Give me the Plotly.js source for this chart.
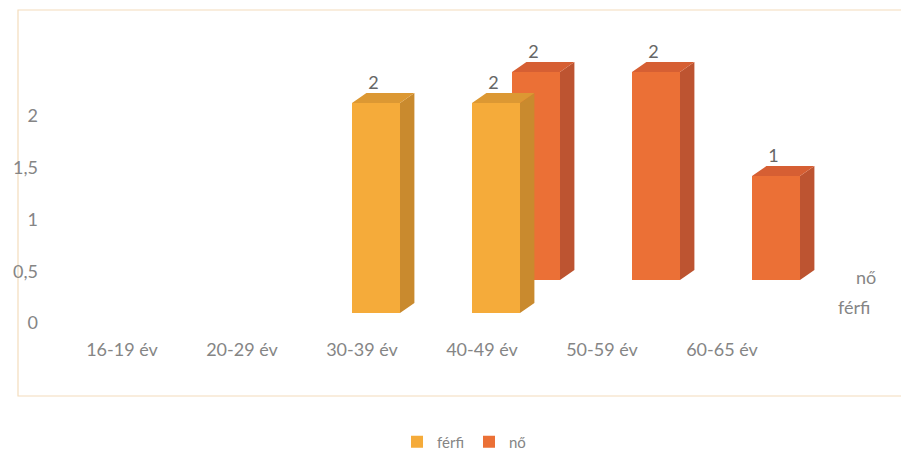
<!DOCTYPE html>
<html>
<head>
<meta charset="utf-8">
<script src="https://cdn.plot.ly/plotly-3.0.1.min.js"></script>
<style>html,body{margin:0;padding:0;background:#fff;}#chart{width:901px;height:460px;}</style>
</head>
<body>
<div id="chart"></div>
<script>
// ---- data ----
const categories = ["16-19 év", "20-29 év", "30-39 év", "40-49 év", "50-59 év", "60-65 év"];
const seriesNames = ["férfi", "nő"];
const ferfiValues = [0, 0, 2, 2, 0, 0];
const noValues = [0, 0, 0, 2, 2, 1];
const yTickValues = [0, 0.5, 1, 1.5, 2];
const yTickLabels = ["0", "0,5", "1", "1,5", "2"];

// ---- styling ----
const W = 901, H = 460;
const FONT = "Lato, 'Open Sans', sans-serif";
const GREY = "#858585";
const ferfiColors = {front: "#f5ab3a", side: "#c98a2e", top: "#dc9833"};
const noColors = {front: "#eb7036", side: "#bd5431", top: "#d65f33"};
const halfW = 0.2;      // half bar width (category units)
const depthX = 0.12;    // 3D depth offset, category units
const depthY = 0.095;   // 3D depth offset, value units
const AX_SIZE = 18;

const px = (a, b) => [a / W, b / W];
const py = (top, bottom) => [1 - bottom / H, 1 - top / H];

function idx() { return categories.map((_, i) => i); }

function faces(values) {
  const sx = [], sy = [], tx = [], ty = [];
  values.forEach((v, i) => {
    if (!(v > 0)) return;
    sx.push(i + halfW, i + halfW + depthX, i + halfW + depthX, i + halfW, i + halfW, null);
    sy.push(0, depthY, v + depthY, v, 0, null);
    tx.push(i - halfW, i - halfW + depthX, i + halfW + depthX, i + halfW, i - halfW, null);
    ty.push(v, v + depthY, v + depthY, v, v, null);
  });
  return {sx, sy, tx, ty};
}

function seriesTraces(values, name, colors, xa, ya) {
  const f = faces(values);
  const shown = values.map(v => v > 0 ? v : null);
  return [
    {type: "bar", x: idx(), y: values, name: name, xaxis: xa, yaxis: ya,
     width: 2 * halfW, marker: {color: colors.front, line: {width: 0}}, hoverinfo: "skip"},
    {type: "scatter", mode: "lines", x: f.sx, y: f.sy, fill: "toself", fillcolor: colors.side,
     line: {width: 0, color: colors.side}, xaxis: xa, yaxis: ya, showlegend: false, hoverinfo: "skip"},
    {type: "scatter", mode: "lines", x: f.tx, y: f.ty, fill: "toself", fillcolor: colors.top,
     line: {width: 0, color: colors.top}, xaxis: xa, yaxis: ya, showlegend: false, hoverinfo: "skip"},
    {type: "scatter", mode: "text", x: idx().map(i => i - 0.02), y: shown.map(v => v === null ? null : v + depthY),
     text: shown.map(v => v === null ? "" : String(v)), textposition: "top center",
     textfont: {family: FONT, size: AX_SIZE, color: "#666666"}, cliponaxis: false,
     xaxis: xa, yaxis: ya, showlegend: false, hoverinfo: "skip"}
  ];
}

const hidden = {showgrid: false, zeroline: false, showline: false, showticklabels: false, ticks: ""};

const data = [
  // base (label) subplot
  {type: "scatter", mode: "markers", x: [null], y: [null], xaxis: "x", yaxis: "y", showlegend: false, hoverinfo: "skip"},
  // back row (nő) drawn first
  ...seriesTraces(noValues, seriesNames[1], noColors, "x2", "y2"),
  // front row (férfi)
  ...seriesTraces(ferfiValues, seriesNames[0], ferfiColors, "x3", "y3")
];
data.forEach(t => { if (t.type === "bar") t.legendrank = (t.name === seriesNames[0]) ? 1 : 2; });

const layout = {
  width: W, height: H,
  margin: {l: 0, r: 0, t: 0, b: 0},
  paper_bgcolor: "#ffffff",
  plot_bgcolor: "rgba(0,0,0,0)",
  font: {family: FONT, color: GREY, size: AX_SIZE},
  showlegend: true,
  legend: {orientation: "h", x: 0.515, xanchor: "center", y: 1 - 442 / H, yanchor: "middle",
           font: {family: FONT, size: 15, color: GREY}, itemwidth: 30, traceorder: "normal"},
  barmode: "overlay",
  // label axes
  xaxis: Object.assign({}, hidden, {domain: px(62, 782), range: [-0.5, 5.5], showticklabels: true,
          tickvals: idx(), ticktext: categories, anchor: "y", tickfont: {family: FONT, size: AX_SIZE, color: GREY},
          automargin: false, fixedrange: true}),
  yaxis: Object.assign({}, hidden, {domain: py(64, 337), range: [-0.135, 2.5], showticklabels: true,
          tickvals: yTickValues, ticktext: yTickLabels, anchor: "free", position: 38 / W,
          tickfont: {family: FONT, size: AX_SIZE, color: GREY}, automargin: false, fixedrange: true}),
  // back row axes (nő): 0 at y=280, 2 at y=72
  xaxis2: Object.assign({}, hidden, {domain: px(116, 836), range: [-0.5, 5.5], anchor: "y2"}),
  yaxis2: Object.assign({}, hidden, {domain: py(280 - 2.5 * 104, 280), range: [0, 2.5], anchor: "x2"}),
  // front row axes (férfi): 0 at y=313, 2 at y=103
  xaxis3: Object.assign({}, hidden, {domain: px(76, 796), range: [-0.5, 5.5], anchor: "y3"}),
  yaxis3: Object.assign({}, hidden, {domain: py(313 - 2.5 * 105, 313), range: [0, 2.5], anchor: "x3"}),
  shapes: [
    {type: "rect", xref: "paper", yref: "paper", x0: 18 / W, x1: 1.02, y0: 1 - 396 / H, y1: 1 - 10 / H,
     line: {color: "#f4dcbc", width: 1.2}, fillcolor: "rgba(0,0,0,0)", layer: "below"}
  ],
  annotations: [
    {xref: "paper", yref: "paper", x: 866 / W, y: 1 - 277 / H, text: seriesNames[1], showarrow: false,
     xanchor: "center", yanchor: "middle", font: {family: FONT, size: AX_SIZE, color: GREY}},
    {xref: "paper", yref: "paper", x: 854 / W, y: 1 - 307 / H, text: seriesNames[0], showarrow: false,
     xanchor: "center", yanchor: "middle", font: {family: FONT, size: AX_SIZE, color: GREY}}
  ]
};

Plotly.newPlot("chart", data, layout, {staticPlot: true, displayModeBar: false});
</script>
</body>
</html>
